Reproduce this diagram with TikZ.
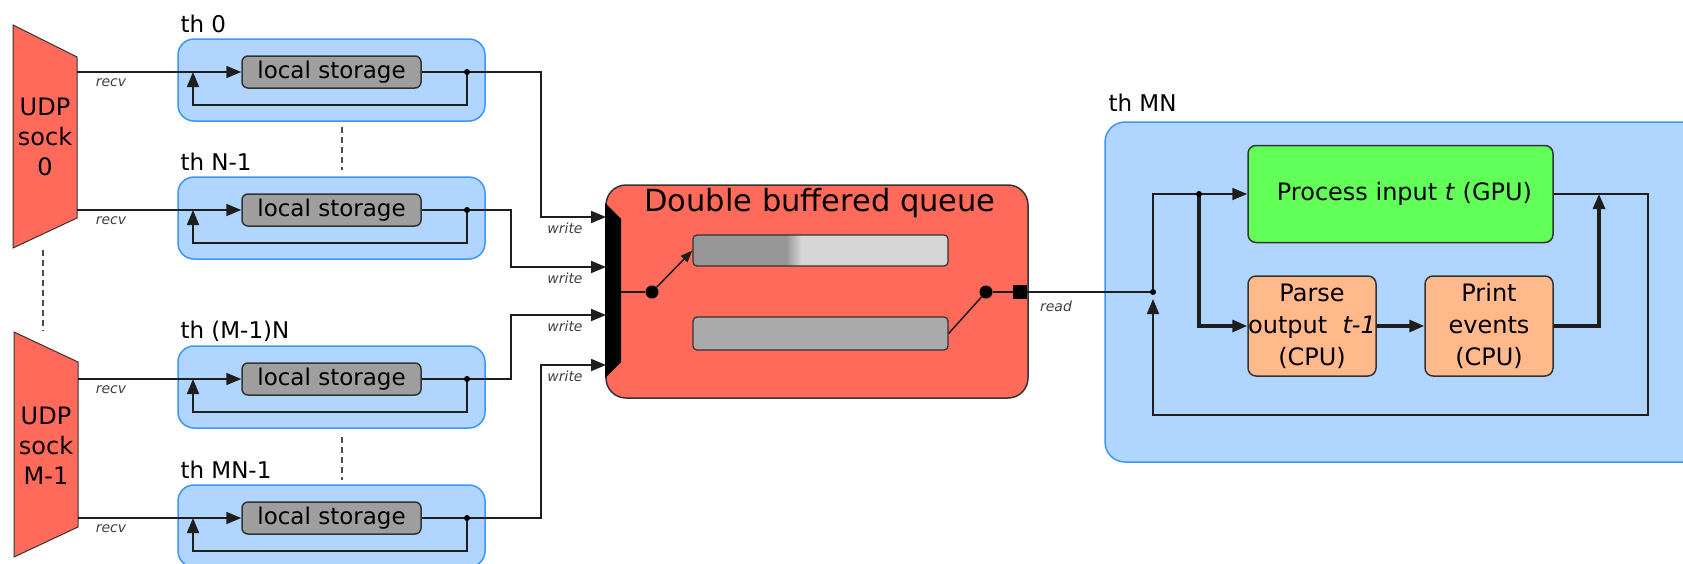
\documentclass[tikz,border=0pt]{standalone}
\usepackage{fontspec}
\setmainfont{DejaVu Sans}
\usetikzlibrary{arrows.meta}

\definecolor{sockred}{RGB}{255,106,90}
\definecolor{threadfill}{RGB}{176,214,255}
\definecolor{threadedge}{RGB}{60,150,255}
\definecolor{storegray}{RGB}{158,158,158}
\definecolor{bufdark}{RGB}{150,150,150}
\definecolor{buflight}{RGB}{214,214,214}
\definecolor{bufmid}{RGB}{170,170,170}
\definecolor{gpugreen}{RGB}{98,255,88}
\definecolor{cpuorange}{RGB}{255,185,138}
\definecolor{wirecol}{RGB}{30,30,30}

\tikzset{
  bigtext/.style={font=\fontsize{23}{28}\selectfont},
  smalltext/.style={font=\fontsize{14}{16}\selectfont\itshape, text=black!75},
  wire/.style={draw=wirecol, line width=1.8pt},
  heavywire/.style={draw=wirecol, line width=3.2pt},
  arrowed/.style={-{Triangle[length=15pt,width=12pt]}},
  thbox/.style={draw=threadedge, fill=threadfill, line width=1.5pt, rounded corners=16pt, inner sep=0pt},
  storage/.style={draw=black!80, fill=storegray, line width=1.5pt, rounded corners=6pt,
    minimum width=179pt, minimum height=32pt, inner sep=0pt, bigtext},
  sockshape/.style={fill=sockred, draw=black!80, line width=1pt},
  junction/.style={circle, fill=black, inner sep=0pt, minimum size=6pt},
  switchdot/.style={circle, fill=black, inner sep=0pt, minimum size=13pt},
  bufbox/.style={draw=black!80, line width=1.2pt, rounded corners=4pt, inner sep=0pt,
    minimum width=255pt},
  taskbox/.style={draw=black!80, line width=1.5pt, rounded corners=8pt, inner sep=0pt,
    align=center, font=\fontsize{24}{32}\selectfont},
  dashmark/.style={draw=black!70, line width=1.5pt, dash pattern=on 6pt off 4pt},
}

\begin{document}
\begin{tikzpicture}[x=1pt, y=-1pt]
\useasboundingbox (0,0) rectangle (1683,563);
\clip (0,0) rectangle (1683,563);

% ---------- UDP sockets ----------
\draw[sockshape] (13,25) -- (77,57) -- (77,218) -- (13,248) -- cycle;
\node[align=center, font=\fontsize{24}{30}\selectfont] (sock0) at (45,137) {UDP\\sock\\0};
\draw[sockshape] (14,332) -- (78,362) -- (78,527) -- (14,557) -- cycle;
\node[align=center, font=\fontsize{24}{30}\selectfont] (sockM) at (46,446) {UDP\\sock\\M-1};
\draw[dashmark] (43,250) -- (43,331);

% ---------- write ports of the queue ----------
\coordinate (wa) at (606,217);
\coordinate (wb) at (606,267);
\coordinate (wc) at (606,315);
\coordinate (wd) at (606,365);

% ---------- receiving threads ----------
\foreach \t/\yc/\lab/\xo/\wy/\px in
  {a/72/{th 0}/541/217/77, b/210/{th N-1}/511/267/77,
   c/379/{th (M-1)N}/511/315/78, d/518/{th MN-1}/541/365/78}{
  \node[thbox, minimum width=307pt, minimum height=82pt] (th\t) at (331.5,\yc+8) {};
  \node[bigtext, anchor=west] (lab\t) at (177,\yc-48) {\lab};
  \node[storage] (ls\t) at (331.5,\yc) {local storage};
  \coordinate (port\t) at (\px,\yc);
  \coordinate (fork\t) at (467,\yc);
  \coordinate (back\t) at (193,\yc);
  \draw[wire, arrowed] (port\t) -- (ls\t);
  \node[smalltext] (recv\t) at (111,\yc+11) {recv};
  \draw[wire] (ls\t) -- (fork\t);
  \draw[wire, arrowed] (fork\t) -- ++(0,33) -| (back\t);
  \draw[wire, arrowed] (fork\t) -| (\xo,\wy) -- (w\t);
  \node[junction] at (fork\t) {};
  \node[smalltext] (write\t) at (565,\wy+11) {write};
}
\draw[dashmark] (342,127) -- (342,170);
\draw[dashmark] (342,437) -- (342,480);

% ---------- double buffered queue ----------
\node[draw=black!80, fill=sockred, line width=1.5pt, rounded corners=20pt,
  minimum width=422pt, minimum height=213pt, inner sep=0pt] (queue) at (817,291.5) {};
\node[font=\fontsize{30.5}{36}\selectfont] (qtitle) at (820,203) {Double buffered queue};
\fill[black] (605,203) -- (621,219) -- (621,362) -- (605,378) -- cycle;
\coordinate (barout) at (621,292);

% first buffer, partly filled
\begin{scope}
  \clip[rounded corners=4pt] (693,235) rectangle (948,266);
  \fill[bufdark] (693,235) rectangle (786,266);
  \shade[left color=bufdark, right color=buflight] (786,235) rectangle (801,266);
  \fill[buflight] (801,235) rectangle (948,266);
\end{scope}
\node[bufbox, minimum height=31pt] (bufA) at (820.5,250.5) {};
\node[bufbox, fill=bufmid, minimum height=33pt] (bufB) at (820.5,333.5) {};

\node[switchdot] (swin) at (652,292) {};
\draw[wire] (barout) -- (swin);
\draw[draw=wirecol, line width=1.5pt, -{Triangle[length=12pt,width=9pt]}] (swin) -- (bufA.west);

\node[switchdot] (swout) at (986,292) {};
\draw[draw=wirecol, line width=1.5pt] (bufB.east) -- (swout);
\node[fill=black, inner sep=0pt, minimum size=14pt] (rport) at (1020,292) {};
\draw[wire] (swout) -- (rport);

% ---------- processing thread ----------
\node[thbox, rounded corners=20pt, minimum width=605pt, minimum height=340pt] (thmn) at (1407.5,292) {};
\node[bigtext, anchor=west] (labmn) at (1105,103) {th MN};

\node[taskbox, fill=gpugreen, minimum width=305pt, minimum height=97pt] (gpu) at (1400.5,194)
  {\raisebox{6pt}{\hspace*{8pt}Process input \textit{t} (GPU)}};
\node[taskbox, fill=cpuorange, minimum width=128pt, minimum height=100pt] (parse) at (1312,326)
  {Parse\\output\ \ \textit{t-1}\\(CPU)};
\node[taskbox, fill=cpuorange, minimum width=128pt, minimum height=100pt] (print) at (1489,326)
  {Print\\events\\(CPU)};

\coordinate (rd) at (1153,292);
\coordinate (split) at (1199,194);
\coordinate (rejoin) at (1599,194);
\coordinate (ret) at (1648,415);

\draw[wire] (rport) -- (rd);
\node[smalltext] (readlbl) at (1056,306) {read};
\draw[wire, arrowed] (rd) |- (gpu.west);
\draw[heavywire, arrowed] (split) |- (parse.west);
\draw[heavywire, arrowed] (parse) -- (print);
\draw[heavywire, arrowed] (print.east) -| (rejoin);
\draw[wire, arrowed, shorten >=7pt] (gpu.east) -| (ret) -| (rd);
\node[junction] at (rd) {};
\node[junction] at (split) {};
\end{tikzpicture}
\end{document}
